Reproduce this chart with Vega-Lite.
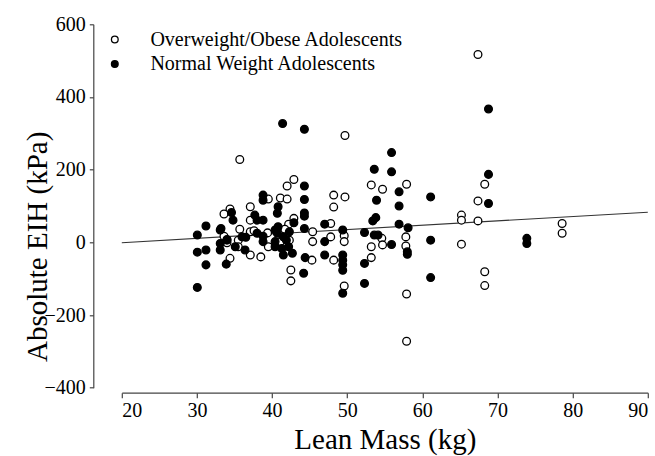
{
  "$schema": "https://vega.github.io/schema/vega-lite/v6.json",
  "width": 526,
  "height": 363.4,
  "autosize": {"type": "none"},
  "padding": {"left": 121.8, "top": 24.3, "right": 7.2, "bottom": 68.3},
  "background": "white",
  "config": {
    "view": {"stroke": null},
    "font": "Liberation Serif",
    "axis": {
      "grid": false,
      "domainColor": "#444",
      "tickColor": "#444",
      "domainWidth": 1.2,
      "tickWidth": 1.2,
      "labelFont": "Liberation Serif",
      "labelFontSize": 20,
      "labelColor": "black",
      "titleFont": "Liberation Serif",
      "titleFontSize": 29,
      "titleFontWeight": "normal",
      "titleColor": "black"
    }
  },
  "layer": [
    {
      "data": {"values": [{"lean": 20, "eih": -1}, {"lean": 90, "eih": 83}]},
      "mark": {"type": "line", "color": "#333", "strokeWidth": 1.1},
      "encoding": {
        "x": {"field": "lean", "type": "quantitative"},
        "y": {"field": "eih", "type": "quantitative"}
      }
    },
    {
      "data": {"values": [
        {"group": "Overweight/Obese Adolescents", "lean": 35.7, "eih": 228},
        {"group": "Overweight/Obese Adolescents", "lean": 49.7, "eih": 294},
        {"group": "Overweight/Obese Adolescents", "lean": 42.9, "eih": 173},
        {"group": "Overweight/Obese Adolescents", "lean": 42.0, "eih": 155},
        {"group": "Overweight/Obese Adolescents", "lean": 39.5, "eih": 119},
        {"group": "Overweight/Obese Adolescents", "lean": 41.1, "eih": 122},
        {"group": "Overweight/Obese Adolescents", "lean": 42.0, "eih": 119},
        {"group": "Overweight/Obese Adolescents", "lean": 48.2, "eih": 130},
        {"group": "Overweight/Obese Adolescents", "lean": 49.7, "eih": 125},
        {"group": "Overweight/Obese Adolescents", "lean": 37.1, "eih": 98},
        {"group": "Overweight/Obese Adolescents", "lean": 34.4, "eih": 92},
        {"group": "Overweight/Obese Adolescents", "lean": 48.2, "eih": 97},
        {"group": "Overweight/Obese Adolescents", "lean": 53.2, "eih": 158},
        {"group": "Overweight/Obese Adolescents", "lean": 54.7, "eih": 146},
        {"group": "Overweight/Obese Adolescents", "lean": 57.9, "eih": 160},
        {"group": "Overweight/Obese Adolescents", "lean": 65.2, "eih": 75},
        {"group": "Overweight/Obese Adolescents", "lean": 65.2, "eih": 61},
        {"group": "Overweight/Obese Adolescents", "lean": 49.6, "eih": 18},
        {"group": "Overweight/Obese Adolescents", "lean": 49.6, "eih": 2},
        {"group": "Overweight/Obese Adolescents", "lean": 54.6, "eih": 11},
        {"group": "Overweight/Obese Adolescents", "lean": 54.7, "eih": -7},
        {"group": "Overweight/Obese Adolescents", "lean": 53.2, "eih": -12},
        {"group": "Overweight/Obese Adolescents", "lean": 57.8, "eih": 15},
        {"group": "Overweight/Obese Adolescents", "lean": 57.8, "eih": -10},
        {"group": "Overweight/Obese Adolescents", "lean": 65.2, "eih": -5},
        {"group": "Overweight/Obese Adolescents", "lean": 53.2, "eih": -42},
        {"group": "Overweight/Obese Adolescents", "lean": 49.6, "eih": -120},
        {"group": "Overweight/Obese Adolescents", "lean": 57.9, "eih": -142},
        {"group": "Overweight/Obese Adolescents", "lean": 57.9, "eih": -272},
        {"group": "Overweight/Obese Adolescents", "lean": 67.4, "eih": 517},
        {"group": "Overweight/Obese Adolescents", "lean": 68.3, "eih": 160},
        {"group": "Overweight/Obese Adolescents", "lean": 67.4, "eih": 114},
        {"group": "Overweight/Obese Adolescents", "lean": 67.4, "eih": 59},
        {"group": "Overweight/Obese Adolescents", "lean": 78.6, "eih": 52},
        {"group": "Overweight/Obese Adolescents", "lean": 78.6, "eih": 25},
        {"group": "Overweight/Obese Adolescents", "lean": 68.3, "eih": -81},
        {"group": "Overweight/Obese Adolescents", "lean": 68.3, "eih": -119},
        {"group": "Overweight/Obese Adolescents", "lean": 33.6, "eih": 78},
        {"group": "Overweight/Obese Adolescents", "lean": 37.1, "eih": 61},
        {"group": "Overweight/Obese Adolescents", "lean": 42.9, "eih": 66},
        {"group": "Overweight/Obese Adolescents", "lean": 42.2, "eih": 50},
        {"group": "Overweight/Obese Adolescents", "lean": 47.8, "eih": 52},
        {"group": "Overweight/Obese Adolescents", "lean": 35.7, "eih": 36},
        {"group": "Overweight/Obese Adolescents", "lean": 33.6, "eih": 17},
        {"group": "Overweight/Obese Adolescents", "lean": 37.1, "eih": 29},
        {"group": "Overweight/Obese Adolescents", "lean": 37.6, "eih": 32},
        {"group": "Overweight/Obese Adolescents", "lean": 39.4, "eih": 26},
        {"group": "Overweight/Obese Adolescents", "lean": 41.7, "eih": 36},
        {"group": "Overweight/Obese Adolescents", "lean": 41.1, "eih": 2},
        {"group": "Overweight/Obese Adolescents", "lean": 45.4, "eih": 29},
        {"group": "Overweight/Obese Adolescents", "lean": 45.4, "eih": 2},
        {"group": "Overweight/Obese Adolescents", "lean": 47.8, "eih": 15},
        {"group": "Overweight/Obese Adolescents", "lean": 34.0, "eih": -1},
        {"group": "Overweight/Obese Adolescents", "lean": 35.5, "eih": 6},
        {"group": "Overweight/Obese Adolescents", "lean": 35.5, "eih": -12},
        {"group": "Overweight/Obese Adolescents", "lean": 37.1, "eih": -35},
        {"group": "Overweight/Obese Adolescents", "lean": 34.4, "eih": -44},
        {"group": "Overweight/Obese Adolescents", "lean": 38.5, "eih": -40},
        {"group": "Overweight/Obese Adolescents", "lean": 39.5, "eih": -12},
        {"group": "Overweight/Obese Adolescents", "lean": 42.3, "eih": 6},
        {"group": "Overweight/Obese Adolescents", "lean": 42.5, "eih": -76},
        {"group": "Overweight/Obese Adolescents", "lean": 42.5, "eih": -106},
        {"group": "Overweight/Obese Adolescents", "lean": 45.3, "eih": -49},
        {"group": "Overweight/Obese Adolescents", "lean": 48.2, "eih": -49},
        {"group": "Normal Weight Adolescents", "lean": 31.2, "eih": 45},
        {"group": "Normal Weight Adolescents", "lean": 30.05, "eih": 20},
        {"group": "Normal Weight Adolescents", "lean": 33.2, "eih": 38},
        {"group": "Normal Weight Adolescents", "lean": 30.05, "eih": -27},
        {"group": "Normal Weight Adolescents", "lean": 31.2, "eih": -21},
        {"group": "Normal Weight Adolescents", "lean": 33.1, "eih": -21},
        {"group": "Normal Weight Adolescents", "lean": 31.2, "eih": -62},
        {"group": "Normal Weight Adolescents", "lean": 30.05, "eih": -124},
        {"group": "Normal Weight Adolescents", "lean": 33.9, "eih": -60},
        {"group": "Normal Weight Adolescents", "lean": 34.0, "eih": 6},
        {"group": "Normal Weight Adolescents", "lean": 41.4, "eih": 327},
        {"group": "Normal Weight Adolescents", "lean": 44.3, "eih": 311},
        {"group": "Normal Weight Adolescents", "lean": 44.3, "eih": 155},
        {"group": "Normal Weight Adolescents", "lean": 38.8, "eih": 130},
        {"group": "Normal Weight Adolescents", "lean": 38.8, "eih": 116},
        {"group": "Normal Weight Adolescents", "lean": 44.3, "eih": 118},
        {"group": "Normal Weight Adolescents", "lean": 40.8, "eih": 98},
        {"group": "Normal Weight Adolescents", "lean": 34.6, "eih": 82},
        {"group": "Normal Weight Adolescents", "lean": 55.9, "eih": 247},
        {"group": "Normal Weight Adolescents", "lean": 53.6, "eih": 201},
        {"group": "Normal Weight Adolescents", "lean": 55.9, "eih": 194},
        {"group": "Normal Weight Adolescents", "lean": 56.9, "eih": 139},
        {"group": "Normal Weight Adolescents", "lean": 53.9, "eih": 116},
        {"group": "Normal Weight Adolescents", "lean": 61.1, "eih": 125},
        {"group": "Normal Weight Adolescents", "lean": 56.9, "eih": 100},
        {"group": "Normal Weight Adolescents", "lean": 53.8, "eih": 68},
        {"group": "Normal Weight Adolescents", "lean": 53.4, "eih": 59},
        {"group": "Normal Weight Adolescents", "lean": 56.9, "eih": 50},
        {"group": "Normal Weight Adolescents", "lean": 58.1, "eih": 40},
        {"group": "Normal Weight Adolescents", "lean": 49.4, "eih": 34},
        {"group": "Normal Weight Adolescents", "lean": 52.3, "eih": 27},
        {"group": "Normal Weight Adolescents", "lean": 53.6, "eih": 20},
        {"group": "Normal Weight Adolescents", "lean": 54.1, "eih": 20},
        {"group": "Normal Weight Adolescents", "lean": 55.9, "eih": -6},
        {"group": "Normal Weight Adolescents", "lean": 58.0, "eih": -26},
        {"group": "Normal Weight Adolescents", "lean": 58.0, "eih": -33},
        {"group": "Normal Weight Adolescents", "lean": 61.1, "eih": 6},
        {"group": "Normal Weight Adolescents", "lean": 49.4, "eih": -35},
        {"group": "Normal Weight Adolescents", "lean": 49.4, "eih": -49},
        {"group": "Normal Weight Adolescents", "lean": 49.4, "eih": -62},
        {"group": "Normal Weight Adolescents", "lean": 49.4, "eih": -77},
        {"group": "Normal Weight Adolescents", "lean": 52.3, "eih": -58},
        {"group": "Normal Weight Adolescents", "lean": 49.4, "eih": -140},
        {"group": "Normal Weight Adolescents", "lean": 52.3, "eih": -113},
        {"group": "Normal Weight Adolescents", "lean": 61.1, "eih": -97},
        {"group": "Normal Weight Adolescents", "lean": 68.8, "eih": 367},
        {"group": "Normal Weight Adolescents", "lean": 68.8, "eih": 187},
        {"group": "Normal Weight Adolescents", "lean": 68.8, "eih": 107},
        {"group": "Normal Weight Adolescents", "lean": 73.9, "eih": 11},
        {"group": "Normal Weight Adolescents", "lean": 73.9, "eih": -3},
        {"group": "Normal Weight Adolescents", "lean": 40.7, "eih": 80},
        {"group": "Normal Weight Adolescents", "lean": 44.3, "eih": 81},
        {"group": "Normal Weight Adolescents", "lean": 44.3, "eih": 72},
        {"group": "Normal Weight Adolescents", "lean": 34.8, "eih": 61},
        {"group": "Normal Weight Adolescents", "lean": 37.7, "eih": 75},
        {"group": "Normal Weight Adolescents", "lean": 38.0, "eih": 61},
        {"group": "Normal Weight Adolescents", "lean": 38.8, "eih": 61},
        {"group": "Normal Weight Adolescents", "lean": 42.9, "eih": 54},
        {"group": "Normal Weight Adolescents", "lean": 47.0, "eih": 50},
        {"group": "Normal Weight Adolescents", "lean": 33.1, "eih": 34},
        {"group": "Normal Weight Adolescents", "lean": 34.0, "eih": 8},
        {"group": "Normal Weight Adolescents", "lean": 36.0, "eih": 15},
        {"group": "Normal Weight Adolescents", "lean": 36.5, "eih": 14},
        {"group": "Normal Weight Adolescents", "lean": 38.0, "eih": 25},
        {"group": "Normal Weight Adolescents", "lean": 38.8, "eih": 17},
        {"group": "Normal Weight Adolescents", "lean": 40.4, "eih": 34},
        {"group": "Normal Weight Adolescents", "lean": 40.8, "eih": 43},
        {"group": "Normal Weight Adolescents", "lean": 40.7, "eih": 25},
        {"group": "Normal Weight Adolescents", "lean": 42.3, "eih": 29},
        {"group": "Normal Weight Adolescents", "lean": 41.5, "eih": 15},
        {"group": "Normal Weight Adolescents", "lean": 41.9, "eih": 6},
        {"group": "Normal Weight Adolescents", "lean": 47.0, "eih": 2},
        {"group": "Normal Weight Adolescents", "lean": 33.1, "eih": -3},
        {"group": "Normal Weight Adolescents", "lean": 35.1, "eih": -12},
        {"group": "Normal Weight Adolescents", "lean": 36.4, "eih": -21},
        {"group": "Normal Weight Adolescents", "lean": 38.8, "eih": 2},
        {"group": "Normal Weight Adolescents", "lean": 40.4, "eih": 2},
        {"group": "Normal Weight Adolescents", "lean": 40.4, "eih": -12},
        {"group": "Normal Weight Adolescents", "lean": 41.3, "eih": -17},
        {"group": "Normal Weight Adolescents", "lean": 41.5, "eih": -35},
        {"group": "Normal Weight Adolescents", "lean": 42.2, "eih": -12},
        {"group": "Normal Weight Adolescents", "lean": 42.7, "eih": -30},
        {"group": "Normal Weight Adolescents", "lean": 44.2, "eih": -85},
        {"group": "Normal Weight Adolescents", "lean": 47.0, "eih": -35},
        {"group": "Normal Weight Adolescents", "lean": 44.3, "eih": 38},
        {"group": "Normal Weight Adolescents", "lean": 44.4, "eih": -42}
      ]},
      "mark": {"type": "point", "filled": true, "stroke": "black", "strokeWidth": 1.3, "size": 60, "opacity": 1},
      "encoding": {
        "x": {
          "field": "lean", "type": "quantitative",
          "scale": {"domain": [20, 90], "nice": false},
          "axis": {"values": [20, 30, 40, 50, 60, 70, 80, 90], "title": "Lean Mass (kg)", "offset": 5, "tickSize": 5, "labelPadding": 3, "titlePadding": 5}
        },
        "y": {
          "field": "eih", "type": "quantitative",
          "scale": {"domain": [-400, 600], "nice": false},
          "axis": {"values": [-400, -200, 0, 200, 400, 600], "title": "Absolute EIH (kPa)", "offset": 28.5, "tickSize": 4, "labelPadding": 4, "titleX": -41, "titleY": 222}
        },
        "fill": {
          "field": "group", "type": "nominal",
          "scale": {"domain": ["Overweight/Obese Adolescents", "Normal Weight Adolescents"], "range": ["white", "black"]},
          "legend": {
            "orient": "none", "legendX": -17, "legendY": 5.2, "title": null,
            "padding": 0, "symbolSize": 45, "symbolStrokeColor": "black", "symbolStrokeWidth": 1.3,
            "labelFont": "Liberation Serif", "labelFontSize": 20, "labelColor": "black", "labelLimit": 0,
            "labelOffset": 25.6, "rowPadding": 4.5, "symbolType": "circle"
          }
        }
      }
    }
  ]
}
